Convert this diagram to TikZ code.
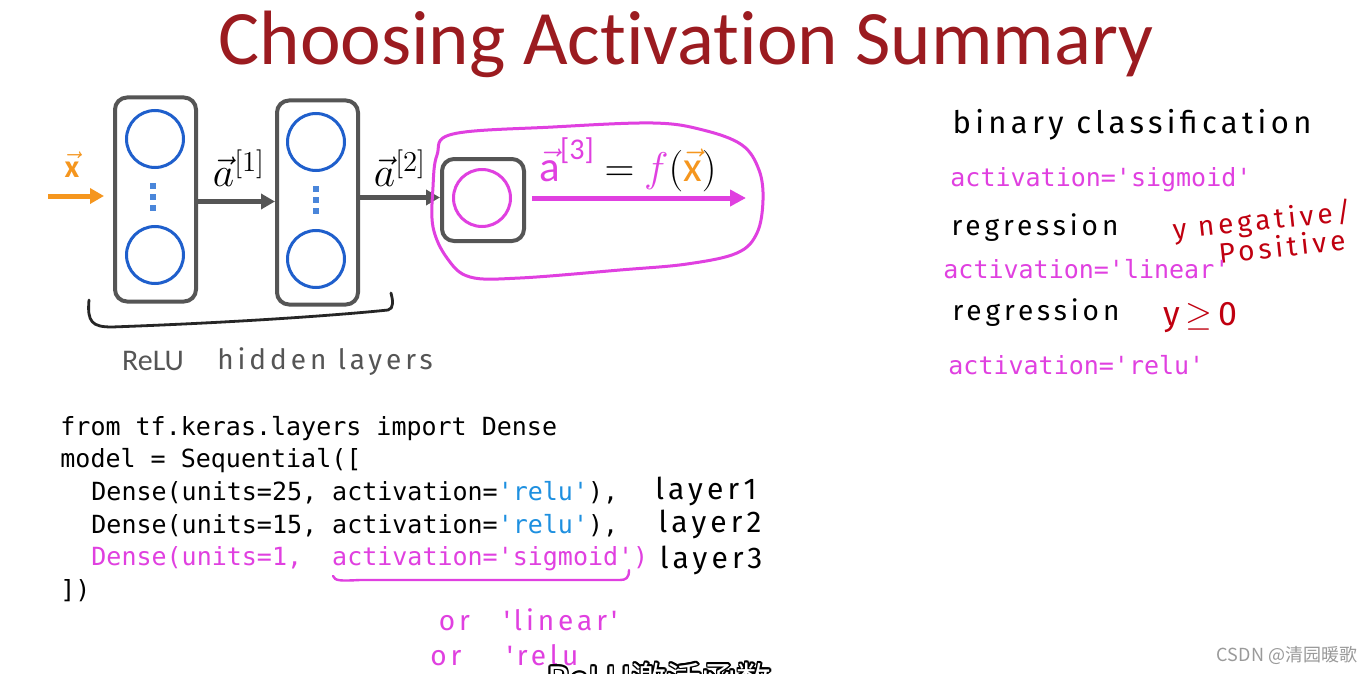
\documentclass[tikz,border=0pt]{standalone}
\usepackage{amsmath}
\usepackage{fontspec}
\setmainfont[Ligatures={NoCommon}]{Carlito}
\setmonofont{DejaVu Sans Mono}
\newfontfamily\hand[LetterSpace=14]{Fira Sans}
\newfontfamily\cjk{Noto Sans CJK SC}
\usepackage{contour}
\contourlength{0.8pt}
\contournumber{10}
\usetikzlibrary{arrows.meta}
\definecolor{tred}{HTML}{9B1B20}
\definecolor{boxg}{HTML}{555555}
\definecolor{nblue}{HTML}{1F5FCC}
\definecolor{dotb}{HTML}{4A86DA}
\definecolor{mag}{HTML}{E040E0}
\definecolor{org}{HTML}{F5961E}
\definecolor{rblue}{HTML}{1E90E0}
\definecolor{hred}{HTML}{C00010}
\definecolor{wm}{HTML}{9A9A9A}
\begin{document}
\begin{tikzpicture}[x=0.5pt,y=-0.5pt,
  lbox/.style={draw=boxg, line width=2pt, rounded corners=6pt, minimum width=40.5pt, minimum height=102pt, inner sep=0pt},
  obox/.style={draw=boxg, line width=2pt, rounded corners=6pt, minimum size=41pt, inner sep=0pt},
  neuron/.style={circle, draw=nblue, line width=1.5pt, minimum size=28.5pt, inner sep=0pt},
  oneuron/.style={neuron, draw=mag},
  ndot/.style={fill=dotb, minimum size=2.6pt, inner sep=0pt},
  garrow/.style={draw=boxg, line width=2.5pt, -{Triangle[length=7pt,width=7.5pt]}},
  marrow/.style={draw=mag, line width=2.5pt, -{Triangle[length=8pt,width=8pt]}},
  oarrow/.style={draw=org, line width=2.5pt, -{Triangle[length=7pt,width=7.5pt]}},
  code/.style={font=\ttfamily\fontsize{12.5}{15}\selectfont, anchor=base west, inner sep=0pt},
  hw/.style={font=\hand\fontsize{14}{16}\selectfont, inner sep=0pt},
  lbl/.style={inner sep=0pt}
]
\useasboundingbox (0,0) rectangle (1370,674);
\clip (0,0) rectangle (1370,674);
\fill[white] (0,0) rectangle (1370,674);

% title
\node[lbl, anchor=base, text=tred, font=\fontsize{38.5}{44}\selectfont] (title) at (686,65) {Choosing Activation Summary};

% layer boxes
\node[lbox] (L1) at (155.5,199.5) {};
\node[lbox] (L2) at (317.5,202.5) {};
\node[obox] (O) at (483,200) {};
\node[neuron] (n11) at (155,139) {};
\node[neuron] (n12) at (155,255) {};
\node[neuron] (n21) at (316,142) {};
\node[neuron] (n22) at (316,259) {};
\node[oneuron] (n31) at (482,198) {};
\foreach \yy [count=\i] in {186,197,208} \node[ndot] (d1\i) at (153,\yy) {};
\foreach \yy [count=\i] in {189,200,211} \node[ndot] (d2\i) at (316,\yy) {};

% arrows
\coordinate (xin) at (48,196);
\coordinate (xtip) at (104,196);
\draw[oarrow] (xin) -- (xtip);
\draw[garrow] ([yshift=-1pt]L1.east) -- ([yshift=-1pt]L1.east -| L2.west);
\draw[garrow] ([yshift=2.5pt]L2.east) -- ([yshift=2.5pt]L2.east -| O.west);
\coordinate (oend) at (746,198);
\draw[marrow] ([xshift=3pt,yshift=1pt]O.east) -- (oend);

% labels
\node[lbl, text=org, font=\fontsize{16}{18}\selectfont] (xl) at (72,165) {$\vec{\textbf{x}}$};
\node[lbl, font=\fontsize{21}{24}\selectfont] (a1) at (239,168) {$\vec{a}^{[1]}$};
\node[lbl, font=\fontsize{21}{24}\selectfont] (a2) at (400,168) {$\vec{a}^{[2]}$};
\node[lbl, font=\fontsize{21.5}{24}\selectfont] (flab) at (628,165) {\textcolor{mag}{$\vec{\text{a}}^{\text{[3]}}$}\ $=$\ \textcolor{mag}{$f$}$($\textcolor{org}{$\vec{\text{x}}$}$)$};

% loop
\draw[mag, line width=1.5pt] plot[smooth cycle, tension=0.6] coordinates {(453,134) (553,127) (653,123) (703,130) (742,145) (759,170) (763,200) (757,233) (737,253) (687,264) (620,270) (520,278) (470,277) (447,258) (433,227) (433,187) (437,155)};

% bracket
\draw[black!85, line width=1.4pt, line cap=round] (89,300) .. controls (87,322) and (92,327) .. (112,327) .. controls (250,322) and (350,314) .. (388,310) .. controls (394,309) and (393,300) .. (391,293);

\node[lbl, text=boxg, font=\fontsize{15}{18}\selectfont] (relu) at (153,361) {ReLU};
\node[hw, text=boxg] (hid) at (325,362) {hidden layers};

% code
\node[code] (c1) at (60,435) {from tf.keras.layers import Dense};
\node[code] (c2) at (60,467) {model = Sequential([};
\node[code] (c3) at (91,500) {Dense(units=25, activation=\textcolor{rblue}{'relu'}),};
\node[code] (c4) at (91,533) {Dense(units=15, activation=\textcolor{rblue}{'relu'}),};
\node[code, text=mag] (c5) at (91,565) {Dense(units=1,\ \ activation='sigmoid')};
\node[code] (c6) at (60,598) {])};
\draw[mag, line width=1.2pt, line cap=round] (333,576) .. controls (335,581) and (340,581) .. (360,580) -- (620,580) .. controls (626,580) and (629,578) .. (629,570);

\node[hw, font=\hand\fontsize{15}{18}\selectfont] (ly1) at (706,491) {layer1};
\node[hw, font=\hand\fontsize{15}{18}\selectfont] (ly2) at (710,524) {layer2};
\node[hw, font=\hand\fontsize{15}{18}\selectfont] (ly3) at (711,560) {layer3};
\node[hw, text=mag] (or1) at (528,620) {or\ \ \ 'linear'};
\node[hw, text=mag, anchor=west] (or2) at (430,655) {or\ \ \ \ 'relu};

% right side
\node[hw, font=\hand\fontsize{15.5}{18}\selectfont] (bc) at (1132,125) {binary classification};
\node[code, text=mag] (s1) at (950,186) {activation='sigmoid'};
\node[hw] (rg1) at (1035,228) {regression};
\node[hw, text=hred, rotate=6] (neg) at (1262,222) {y negative/};
\node[hw, text=hred, rotate=6] (pos) at (1282,246) {Positive};
\node[code, text=mag] (s2) at (943,278) {activation='linear'};
\node[hw] (rg2) at (1036,313) {regression};
\node[hw, text=hred, font=\hand\fontsize{17}{20}\selectfont] (yge) at (1200,318) {y\,$\geq$\,0};
\node[code, text=mag] (s3) at (948,374) {activation='relu'};

% subtitle and watermark
\node[lbl, anchor=base east, font=\cjk\fontsize{17.5}{20}\selectfont] (sub) at (772,692) {{\color{white}\contour{black}{ReLU激活函数}}};
\node[lbl, text=wm, font=\cjk\fontsize{9}{11}\selectfont] (wmk) at (1287,655) {CSDN @清园暖歌};
\end{tikzpicture}
\end{document}
